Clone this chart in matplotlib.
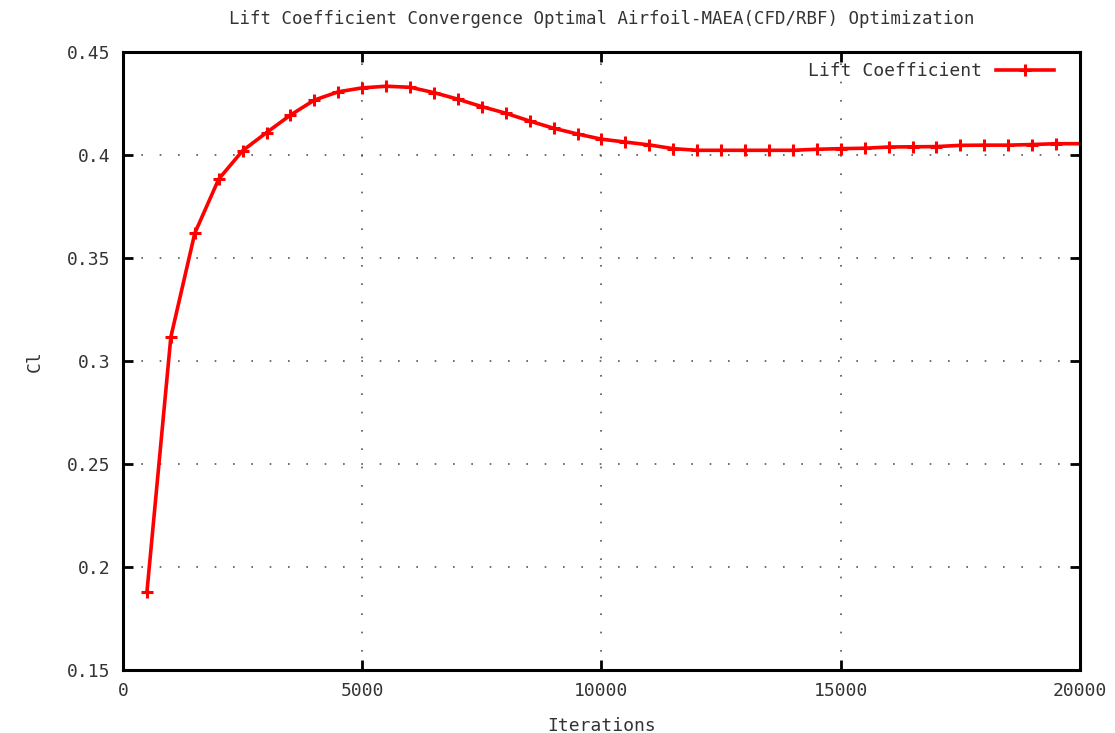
import matplotlib
matplotlib.use("Agg")
import matplotlib.pyplot as plt

iterations = [500, 1000, 1500, 2000, 2500, 3000, 3500, 4000, 4500, 5000,
              5500, 6000, 6500, 7000, 7500, 8000, 8500, 9000, 9500, 10000,
              10500, 11000, 11500, 12000, 12500, 13000, 13500, 14000, 14500, 15000,
              15500, 16000, 16500, 17000, 17500, 18000, 18500, 19000, 19500, 20000]
lift_coeff = [0.1877, 0.3116, 0.3620, 0.3883, 0.4021, 0.4109, 0.4194, 0.4267, 0.4307, 0.4326,
              0.4334, 0.4329, 0.4303, 0.4271, 0.4235, 0.4203, 0.4165, 0.4130, 0.4102, 0.4077,
              0.4063, 0.4049, 0.4031, 0.4023, 0.4023, 0.4023, 0.4023, 0.4023, 0.4028, 0.4031,
              0.4033, 0.4039, 0.4040, 0.4041, 0.4047, 0.4048, 0.4048, 0.4051, 0.4055, 0.4055]

x_ticks = [0, 5000, 10000, 15000, 20000]
y_ticks = [0.15, 0.2, 0.25, 0.3, 0.35, 0.4, 0.45]
y_tick_labels = ["0.15", "0.2", "0.25", "0.3", "0.35", "0.4", "0.45"]

plt.rcParams["font.family"] = ["DejaVu Sans Mono"]
text_color = "#333333"

fig = plt.figure(figsize=(11.15, 7.33), dpi=100)
ax = fig.add_axes([0.1103, 0.086, 0.8583, 0.843])

ax.plot(iterations, lift_coeff, color="#ff0000", lw=2.6, marker="+",
        markersize=9, markeredgewidth=2.2, markevery=list(range(len(iterations) - 1)),
        label="Lift Coefficient", clip_on=True)

ax.set_xlim(0, 20000)
ax.set_ylim(0.15, 0.45)
ax.set_xticks(x_ticks)
ax.set_xticklabels([str(t) for t in x_ticks])
ax.set_yticks(y_ticks)
ax.set_yticklabels(y_tick_labels)

ax.grid(True, color="#555555", linestyle=(0, (1, 10)), linewidth=1.2)
ax.tick_params(direction="in", length=7, width=2, top=True, right=True,
               labelsize=13, labelcolor=text_color, pad=9)
for sp in ax.spines.values():
    sp.set_linewidth(2.2)
    sp.set_color("black")

ax.set_title("Lift Coefficient Convergence Optimal Airfoil-MAEA(CFD/RBF) Optimization",
             fontsize=12.5, color=text_color, pad=20)
ax.set_xlabel("Iterations", fontsize=13, color=text_color, labelpad=12)
ax.set_ylabel("Cl", fontsize=13, color=text_color)
ax.yaxis.set_label_coords(-0.083, 0.5)

leg = ax.legend(loc="upper right", frameon=False, markerfirst=False,
                fontsize=13, handlelength=3.2, bbox_to_anchor=(0.99, 1.01))
for t in leg.get_texts():
    t.set_color(text_color)

fig.savefig("out.png", dpi=100, facecolor="white")
